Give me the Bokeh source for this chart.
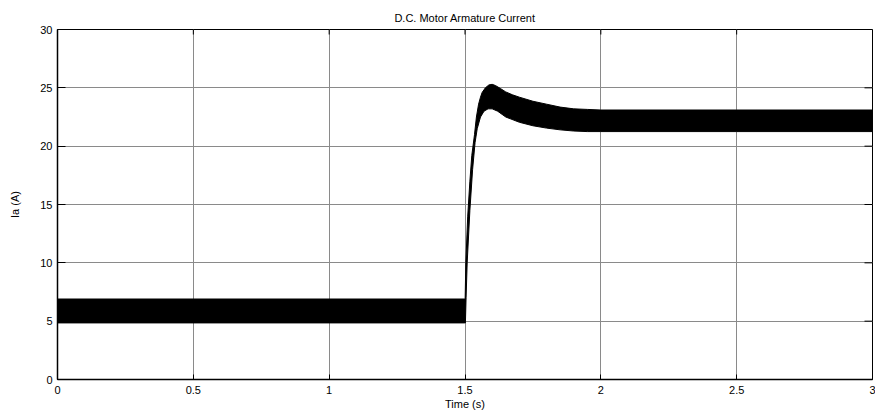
import math
from bokeh.plotting import figure
from bokeh.models import Range1d, FixedTicker, LinearAxis
from bokeh.embed import file_html
from bokeh.resources import INLINE

# Envelope of the (high-ripple) armature current band
upper_t = [0.0, 1.499, 1.5005, 1.503, 1.510, 1.518, 1.525, 1.535, 1.542, 1.550, 1.557,
           1.563, 1.575, 1.588, 1.600, 1.612, 1.630, 1.650, 1.675, 1.700, 1.750,
           1.800, 1.850, 1.900, 1.950, 2.000, 2.500, 3.000]
upper_y = [6.9, 6.9, 6.9, 10.0, 14.0, 17.0, 19.2, 21.0, 22.5, 23.6, 24.2,
           24.6, 25.0, 25.25, 25.3, 25.2, 24.95, 24.65, 24.4, 24.2, 23.85,
           23.6, 23.35, 23.2, 23.15, 23.1, 23.1, 23.1]
lower_t = [0.0, 1.499, 1.5015, 1.504, 1.508, 1.518, 1.528, 1.537, 1.545, 1.557,
           1.570, 1.585, 1.600, 1.620, 1.650, 1.700, 1.750, 1.800, 1.850,
           1.900, 1.950, 2.000, 2.500, 3.000]
lower_y = [4.85, 4.85, 4.85, 7.0, 10.0, 14.5, 18.0, 20.3, 21.5, 22.5,
           23.0, 23.2, 23.2, 23.0, 22.5, 22.05, 21.75, 21.55, 21.4,
           21.3, 21.25, 21.25, 21.25, 21.25]

x_ticks = [0, 0.5, 1, 1.5, 2, 2.5, 3]
x_tick_labels = ["0", "0.5", "1", "1.5", "2", "2.5", "3"]
y_ticks = [0, 5, 10, 15, 20, 25, 30]
y_tick_labels = ["0", "5", "10", "15", "20", "25", "30"]
x_min, x_max = 0, 3
y_min, y_max = 0, 30
title_text = "D.C. Motor Armature Current"

FONT = "Liberation Sans"

p = figure(width=875, height=413, x_range=Range1d(x_min, x_max), y_range=Range1d(y_min, y_max),
           output_backend="svg", toolbar_location=None, title=None,
           min_border_left=57, min_border_right=3, min_border_top=29, min_border_bottom=34,
           background_fill_color="white", border_fill_color="white")

xa = p.below[0]
ya = p.left[0]

xs = upper_t + lower_t[::-1]
ys = upper_y + lower_y[::-1]
p.patch(xs, ys, fill_color="black", line_color="black", line_width=1)

p.outline_line_color = "black"
p.outline_line_width = 1

for g in (p.xgrid[0], p.ygrid[0]):
    g.grid_line_color = "#8a8a8a"
    g.grid_line_width = 1
p.xgrid[0].ticker = FixedTicker(ticks=x_ticks)
p.ygrid[0].ticker = FixedTicker(ticks=y_ticks)

xa.ticker = FixedTicker(ticks=x_ticks)
xa.major_label_overrides = dict(zip(x_ticks, x_tick_labels))
xa.axis_label = "Time (s)"
ya.ticker = FixedTicker(ticks=y_ticks)
ya.major_label_overrides = dict(zip(y_ticks, y_tick_labels))
ya.axis_label = "Ia (A)"

for ax in (xa, ya):
    ax.axis_line_color = "black"
    ax.axis_line_width = 1.5
    ax.major_tick_line_color = "black"
    ax.major_tick_out = 0
    ax.minor_tick_in = 0
    ax.minor_tick_out = 0
    ax.major_label_text_font = FONT
    ax.major_label_text_font_size = "11px"
    ax.major_label_text_color = "black"
    ax.axis_label_text_font = FONT
    ax.axis_label_text_font_size = "11px"
    ax.axis_label_text_font_style = "normal"
    ax.axis_label_text_color = "black"
xa.major_tick_in = 5
ya.major_tick_in = 8
xa.major_label_standoff = 6
xa.axis_label_standoff = 1
ya.major_label_standoff = 5
ya.axis_label_standoff = 16

# title drawn as the label of a tick-less top axis (precise distance from the frame)
top_axis = LinearAxis(ticker=FixedTicker(ticks=[]), axis_label=title_text,
                      axis_line_color=None, major_tick_in=0, major_tick_out=0,
                      minor_tick_in=0, minor_tick_out=0, major_label_standoff=0,
                      axis_label_standoff=6, axis_label_text_font=FONT,
                      axis_label_text_font_size="11px", axis_label_text_font_style="normal",
                      axis_label_text_color="black")
p.add_layout(top_axis, "above")

# box ticks on the top and right edges (MATLAB style)
p.ray(x=x_ticks, y=[y_max] * len(x_ticks), length=5, length_units="screen",
      angle=-math.pi / 2, line_color="black", line_width=1)
p.ray(x=[x_max] * len(y_ticks), y=y_ticks, length=8, length_units="screen",
      angle=math.pi, line_color="black", line_width=1)

open("out.html", "w").write(file_html(p, INLINE))
